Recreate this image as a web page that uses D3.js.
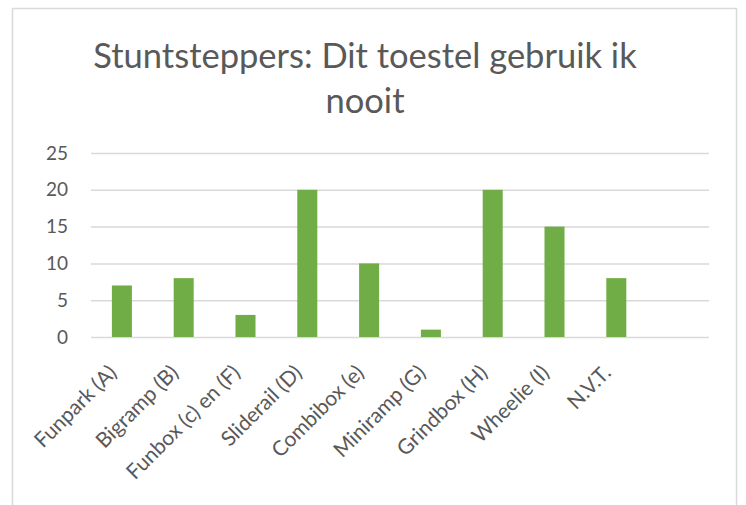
<!DOCTYPE html>
<html>
<head>
<meta charset="utf-8">
<script src="https://cdn.jsdelivr.net/npm/d3@7"></script>
<style>
  body { margin: 0; background: #fff; }
</style>
</head>
<body>
<script>
const categories = ['Funpark (A)', 'Bigramp (B)', 'Funbox (c) en (F)', 'Sliderail (D)', 'Combibox (e)',
    'Miniramp (G)', 'Grindbox (H)', 'Wheelie (I)', 'N.V.T.', ''];
const values = [7, 8, 3, 20, 10, 1, 20, 15, 8, null];
const yTicks = [0, 5, 10, 15, 20, 25];
const titleLines = ['Stuntsteppers: Dit toestel gebruik ik', 'nooit'];

const width = 746, height = 505;
const font = 'Lato, "Open Sans", sans-serif';
const textColor = '#595959';

let svg = d3.select('body').append('svg')
    .attr('width', width).attr('height', height)
    .attr('xmlns', 'http://www.w3.org/2000/svg');

// chart area frame (bottom edge falls outside the picture)
svg.append('rect')
    .attr('x', 12.5).attr('y', 8.5)
    .attr('width', 724).attr('height', 520)
    .style('fill', '#fff')
    .style('stroke', '#d9d9d9')
    .style('stroke-width', 1.5);

let x = d3.scaleBand()
    .domain(categories)
    .range([91, 709])
    .paddingInner(0.676)
    .paddingOuter(0.338);

let y = d3.scaleLinear()
    .domain([0, 25])
    .range([337, 153]);

// gridlines
let yAxis = svg.append('g')
    .attr('transform', 'translate(91,0)')
    .call(d3.axisLeft(y).tickValues(yTicks).tickSize(-618).tickPadding(23));
yAxis.select('.domain').remove();
yAxis.selectAll('.tick line').attr('stroke', '#d9d9d9').attr('stroke-width', 1.5);
yAxis.selectAll('.tick text')
    .attr('fill', textColor)
    .attr('font-family', font)
    .attr('font-size', 19);

svg.append('g').selectAll('rect')
    .data(categories.filter((c, i) => values[i] != null))
    .join('rect')
    .attr('x', d => x(d))
    .attr('width', x.bandwidth())
    .attr('y', d => y(values[categories.indexOf(d)]))
    .attr('height', d => y(0) - y(values[categories.indexOf(d)]))
    .style('fill', '#70ad47');

// category axis
let xAxis = svg.append('g')
    .attr('transform', 'translate(0,337)')
    .call(d3.axisBottom(x).tickSize(0).tickPadding(0));
xAxis.select('.domain').remove();
xAxis.selectAll('.tick text')
    .attr('fill', textColor)
    .attr('font-family', font)
    .attr('font-size', 21)
    .attr('text-anchor', 'end')
    .attr('dy', 0)
    .attr('transform', 'translate(-4,37) rotate(-45)');

let title = svg.append('g')
    .attr('font-family', font)
    .attr('font-size', 34.5)
    .attr('fill', textColor)
    .attr('text-anchor', 'middle');
title.selectAll('text')
    .data(titleLines)
    .join('text')
    .attr('x', 365)
    .attr('y', (d, i) => 68 + i * 45)
    .text(d => d);
</script>
</body>
</html>
